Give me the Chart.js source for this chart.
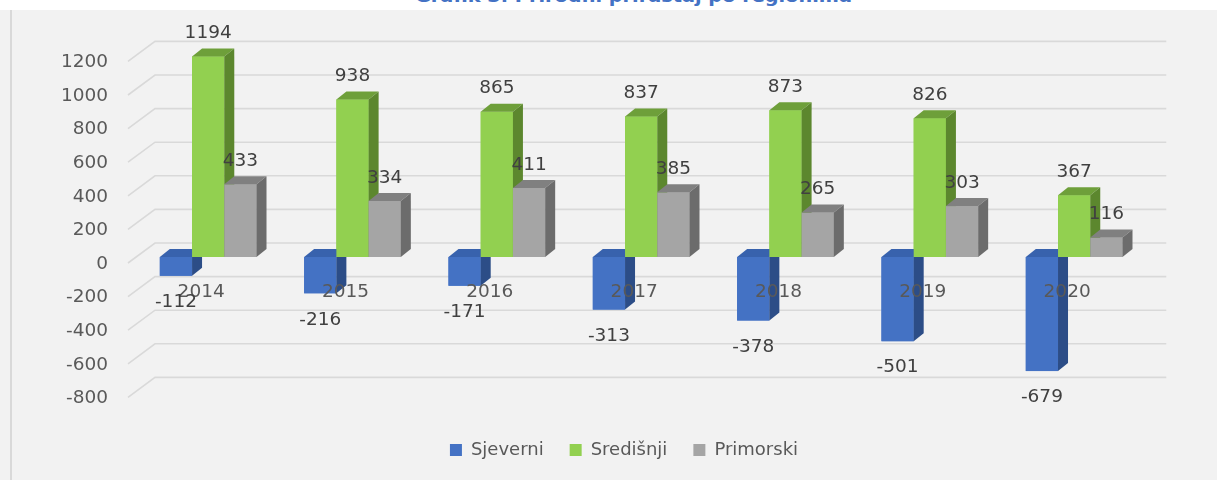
<!DOCTYPE html>
<html>
<head>
<meta charset="utf-8">
<script src="https://cdn.jsdelivr.net/npm/chart.js@4.4.1/dist/chart.umd.min.js"></script>
<style>
  html, body { margin: 0; padding: 0; }
  body { width: 1217px; height: 480px; background: #f2f2f2; position: relative; overflow: hidden; }
  #band { position: absolute; left: 0; top: 0; width: 1217px; height: 10px; background: #ffffff; overflow: hidden; }
  #title { position: absolute; left: 415px; top: -12px; white-space: nowrap; font: bold 17px "DejaVu Sans"; line-height: 17px; color: #4472c4; transform-origin: 0 0; }
  #edge { position: absolute; left: 10px; top: 10px; width: 1.5px; height: 470px; background: #d9d9d9; }
  #wrap { position: absolute; left: 0; top: 0; width: 1217px; height: 480px; }
</style>
</head>
<body>
<div id="band"><span id="title">Grafik 3. Prirodni priraštaj po regionima</span></div>
<div id="edge"></div>
<div id="wrap"><canvas id="c" width="1217" height="480"></canvas></div>
<script>
// ---- data ----
const categories = ['2014', '2015', '2016', '2017', '2018', '2019', '2020'];
const seriesNames = ['Sjeverni', 'Središnji', 'Primorski'];
const sjeverni  = [-112, -216, -171, -313, -378, -501, -679];
const sredisnji = [1194, 938, 865, 837, 873, 826, 367];
const primorski = [433, 334, 411, 385, 265, 303, 116];
const yTicks = [-800, -600, -400, -200, 0, 200, 400, 600, 800, 1000, 1200];

// ---- styles ----
const faces = [
  { front: '#4472c4', top: '#3862ad', side: '#2c4d87' },
  { front: '#92d050', top: '#6e9f3a', side: '#5c872e' },
  { front: '#a5a5a5', top: '#808080', side: '#6c6c6c' }
];
const DX = 10, DY = 8;
const FONT = { family: '"DejaVu Sans"', size: 18.5 };

// fit title width
(function () {
  const t = document.getElementById('title');
  const w = t.getBoundingClientRect().width;
  t.style.transform = 'scaleX(' + (437 / w) + ')';
})();

function poly(ctx, pts, color) {
  ctx.beginPath();
  ctx.moveTo(pts[0][0], pts[0][1]);
  for (let i = 1; i < pts.length; i++) ctx.lineTo(pts[i][0], pts[i][1]);
  ctx.closePath();
  ctx.fillStyle = color;
  ctx.fill();
}

const bars3d = {
  id: 'bars3d',
  beforeDatasetsDraw(chart) {
    const ctx = chart.ctx, ys = chart.scales.y, area = chart.chartArea;
    ctx.save();
    ctx.strokeStyle = '#d9d9d9';
    ctx.lineWidth = 1.6;
    yTicks.forEach(v => {
      const p = ys.getPixelForValue(v);
      ctx.beginPath();
      ctx.moveTo(area.left - 8, p + 6);
      ctx.lineTo(area.left + 19, p - 14);
      ctx.lineTo(area.right + 20, p - 14);
      ctx.stroke();
    });
    ctx.restore();
  },
  afterDatasetsDraw(chart) {
    const ctx = chart.ctx;
    ctx.save();
    chart.data.datasets.forEach((ds, di) => {
      const meta = chart.getDatasetMeta(di);
      const f = faces[di];
      meta.data.forEach(bar => {
        const { x, y, base, width } = bar.getProps(['x', 'y', 'base', 'width'], true);
        const l = x - width / 2, r = x + width / 2;
        const t = Math.min(y, base), b = Math.max(y, base);
        ctx.fillStyle = f.front;
        ctx.fillRect(l, t, r - l, b - t);
        poly(ctx, [[l, t], [l + DX, t - DY], [r + DX, t - DY], [r, t]], f.top);
        poly(ctx, [[r, t], [r + DX, t - DY], [r + DX, b - DY], [r, b]], f.side);
      });
    });
    ctx.restore();
  },
  afterDraw(chart) {
    const ctx = chart.ctx;
    ctx.save();
    ctx.font = FONT.size + 'px ' + FONT.family;
    ctx.fillStyle = '#404040';
    ctx.textAlign = 'center';
    ctx.textBaseline = 'middle';
    chart.data.datasets.forEach((ds, di) => {
      const meta = chart.getDatasetMeta(di);
      meta.data.forEach((bar, i) => {
        const v = ds.data[i];
        const { x, y, base } = bar.getProps(['x', 'y', 'base'], true);
        const t = Math.min(y, base), b = Math.max(y, base);
        const ly = v >= 0 ? t - 23 : b + 26.5;
        ctx.fillText(String(v), x, ly);
      });
    });
    ctx.restore();
  }
};

new Chart(document.getElementById('c'), {
  type: 'bar',
  data: {
    labels: categories,
    datasets: [
      { label: seriesNames[0], data: sjeverni,  backgroundColor: faces[0].front },
      { label: seriesNames[1], data: sredisnji, backgroundColor: faces[1].front },
      { label: seriesNames[2], data: primorski, backgroundColor: faces[2].front }
    ]
  },
  options: {
    responsive: false,
    animation: false,
    devicePixelRatio: 1,
    datasets: { bar: { barPercentage: 1, categoryPercentage: 0.67, borderWidth: 0 } },
    layout: { padding: { top: 55.4, left: 31, right: 0, bottom: 11 } },
    scales: {
      x: {
        type: 'category',
        position: { y: 0 },
        grid: { display: false, drawTicks: false },
        border: { display: false },
        ticks: { z: 2, padding: 24, labelOffset: -7, color: '#595959', font: FONT, maxRotation: 0, autoSkip: false }
      },
      y: {
        type: 'linear',
        position: 'left',
        min: -940.5,
        max: 1200,
        afterBuildTicks(s) { s.ticks = yTicks.map(v => ({ value: v })); },
        afterFit(s) { s.width = 105; },
        grid: { display: false, drawTicks: false },
        border: { display: false },
        ticks: { padding: 28, labelOffset: 7, color: '#595959', font: FONT, callback: v => String(v) }
      },
      y2: {
        type: 'linear',
        position: 'right',
        afterFit(s) { s.width = 70.7; },
        grid: { display: false, drawTicks: false },
        border: { display: false },
        ticks: { display: false }
      }
    },
    plugins: {
      tooltip: { enabled: false },
      legend: {
        position: 'bottom',
        labels: {
          boxWidth: 12, boxHeight: 12, padding: 26,
          color: '#595959',
          font: { family: '"DejaVu Sans"', size: 18 }
        }
      }
    }
  },
  plugins: [bars3d]
});
</script>
</body>
</html>
